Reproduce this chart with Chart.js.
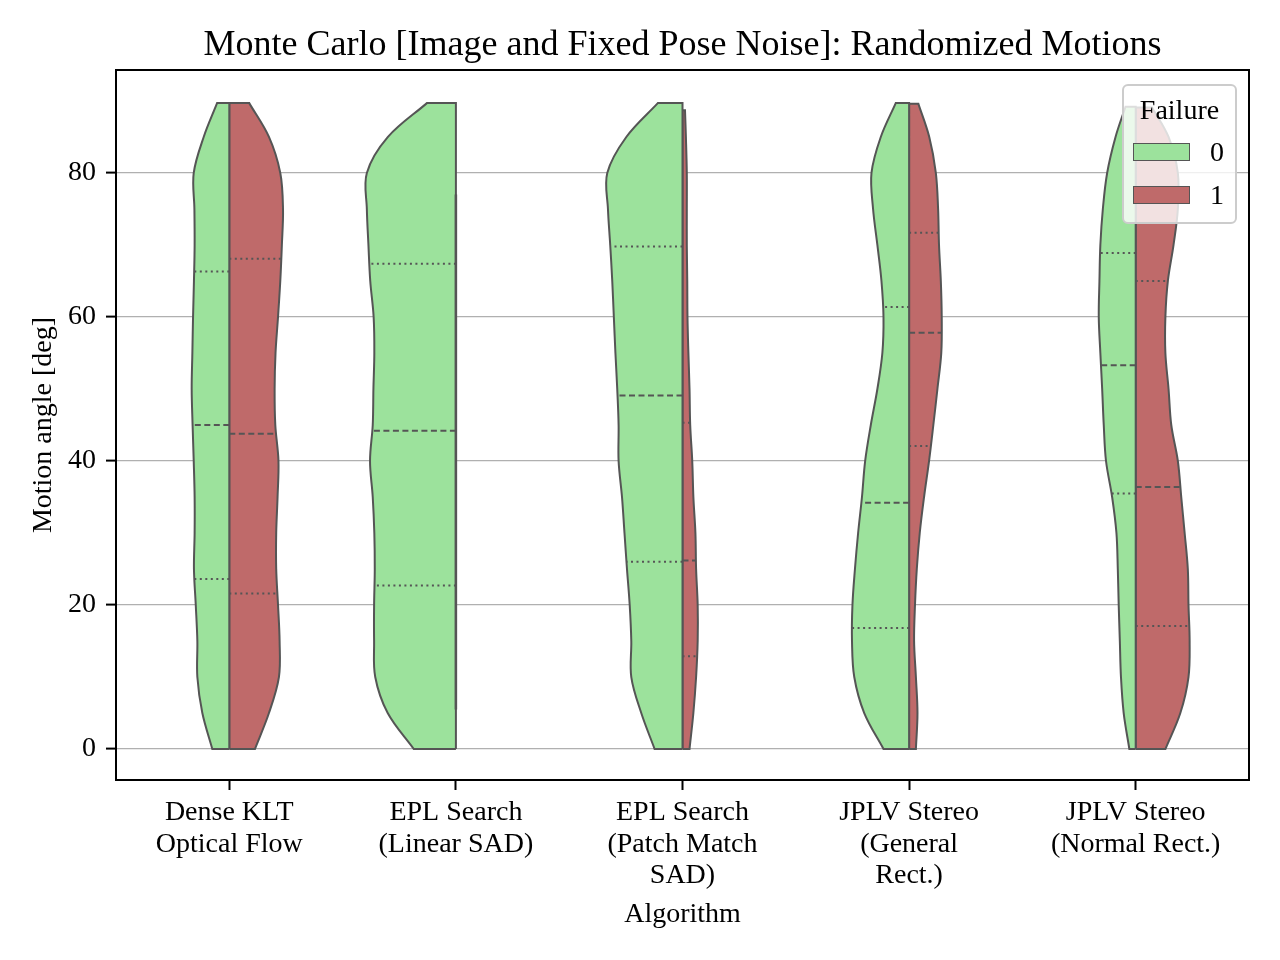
<!DOCTYPE html>
<html lang="en">
<head>
<meta charset="UTF-8">
<title>Monte Carlo: Randomized Motions</title>
<script src="https://cdn.jsdelivr.net/npm/chart.js"></script>
<style>
  body { margin: 0; background: #fff; font-family: "Liberation Serif", serif; }
  #wrap { position: relative; width: 1280px; height: 960px; }
  #legend { position: absolute; left: 1122px; top: 84px; width: 115px; height: 140px; box-sizing: border-box;
            background: rgba(255,255,255,0.8); border: 2px solid #cccccc; border-radius: 6px; }
  #legend div { position: absolute; font-size: 28px; line-height: 28px; color: #000; }
  #legend .patch { width: 57px; height: 18px; box-sizing: border-box; border: 1.5px solid #555; }
</style>
</head>
<body>
<div id="wrap">
  <canvas id="chart" width="1280" height="960"></canvas>
  <div id="legend"></div>
</div>

<script>
const chartTitle = 'Monte Carlo [Image and Fixed Pose Noise]: Randomized Motions';
const algorithms = [
  ['Dense KLT', 'Optical Flow'],
  ['EPL Search', '(Linear SAD)'],
  ['EPL Search', '(Patch Match', 'SAD)'],
  ['JPLV Stereo', '(General', 'Rect.)'],
  ['JPLV Stereo', '(Normal Rect.)']
];
const failureLevels = ['0', '1'];
const yTicks = [0, 20, 40, 60, 80];

// violin half-widths (x-axis units) read at these angles
const angleGrid = [0, 5, 10, 15, 20, 25, 30, 35, 40, 45, 50, 55, 60, 65, 70, 75, 80, 85];

const widthFail0 = [
  [0.075, 0.119, 0.141, 0.141, 0.148, 0.156, 0.153, 0.153, 0.157, 0.162, 0.166, 0.163, 0.160, 0.156, 0.153, 0.154, 0.157, 0.113],
  [0.186, 0.301, 0.356, 0.361, 0.361, 0.358, 0.360, 0.367, 0.379, 0.367, 0.364, 0.360, 0.363, 0.378, 0.386, 0.393, 0.393, 0.300],
  [0.123, 0.182, 0.226, 0.226, 0.233, 0.245, 0.256, 0.267, 0.282, 0.282, 0.288, 0.296, 0.303, 0.310, 0.319, 0.329, 0.332, 0.248],
  [0.113, 0.198, 0.242, 0.252, 0.250, 0.239, 0.225, 0.208, 0.194, 0.169, 0.140, 0.118, 0.113, 0.122, 0.140, 0.159, 0.166, 0.125],
  [0.028, 0.053, 0.065, 0.070, 0.075, 0.079, 0.085, 0.104, 0.131, 0.141, 0.148, 0.156, 0.163, 0.160, 0.156, 0.145, 0.126, 0.089]
];
const widthFail1 = [
  [0.113, 0.175, 0.219, 0.222, 0.215, 0.207, 0.207, 0.213, 0.217, 0.203, 0.200, 0.204, 0.215, 0.225, 0.232, 0.237, 0.225, 0.175],
  null,
  [0.031, 0.048, 0.060, 0.067, 0.067, 0.060, 0.057, 0.048, 0.043, 0.034, 0.031, 0.026, 0.022, 0.021, 0.019, 0.019, 0.019, 0.015],
  [0.030, 0.037, 0.030, 0.022, 0.026, 0.034, 0.047, 0.066, 0.088, 0.107, 0.125, 0.142, 0.144, 0.140, 0.132, 0.128, 0.118, 0.089],
  [0.131, 0.197, 0.233, 0.238, 0.233, 0.230, 0.216, 0.201, 0.186, 0.157, 0.145, 0.131, 0.131, 0.142, 0.167, 0.186, 0.186, 0.145]
];
const topAngleFail0 = [89.7, 89.7, 89.7, 89.7, 89.2];
const topWidthFail0 = [0.054, 0.128, 0.109, 0.059, 0.045];
const topAngleFail1 = [89.7, null, 88.7, 89.6, 89.1];
const topWidthFail1 = [0.088, null, 0.011, 0.041, 0.072];

// [Q1, median, Q3]
const quartFail0 = [[23.6, 45.0, 66.3], [22.7, 44.2, 67.4], [26.0, 49.1, 69.8], [16.8, 34.2, 61.4], [35.5, 53.3, 68.9]];
const quartFail1 = [[21.6, 43.8, 68.1], null, [12.9, 26.2, 45.3], [42.1, 57.8, 71.7], [17.1, 36.4, 65.0]];

// EPL linear failures collapse to a line
const eplLinearFailRange = [5.5, 77.0];

const colors = ['#9ce29c', '#bf6a6a'];
const edgeColor = '#555555';
const serif = 'Liberation Serif';

function halfShape(i, side, widths, topAngle, topWidth) {
  const edge = widths.map((w, k) => ({x: i + side * w, y: angleGrid[k]}));
  edge.push({x: i + side * topWidth, y: topAngle});
  const pts = [{x: i, y: angleGrid[0]}, {...edge[0]}];
  edge.forEach(p => pts.push({...p}));
  pts.push({...edge[edge.length - 1]});
  pts.push({x: i, y: topAngle}, {x: i, y: topAngle}, {x: i, y: angleGrid[0]});
  return pts;
}

function widthAt(a, widths, topAngle, topWidth) {
  const ys = angleGrid.concat([topAngle]);
  const ws = widths.concat([topWidth]);
  for (let k = 0; k < ys.length - 1; k++) {
    if (a >= ys[k] && a <= ys[k + 1]) {
      const f = (a - ys[k]) / (ys[k + 1] - ys[k]);
      return ws[k] + f * (ws[k + 1] - ws[k]);
    }
  }
  return 0;
}

const datasets = [];
const sets = [
  {widths: widthFail0, tops: topAngleFail0, topW: topWidthFail0, quart: quartFail0, side: -1, color: colors[0]},
  {widths: widthFail1, tops: topAngleFail1, topW: topWidthFail1, quart: quartFail1, side: 1, color: colors[1]}
];

sets.forEach(s => {
  algorithms.forEach((_, i) => {
    if (!s.widths[i]) return;
    datasets.push({
      data: halfShape(i, s.side, s.widths[i], s.tops[i], s.topW[i]),
      showLine: true, fill: 'shape', tension: 0.35,
      backgroundColor: s.color, borderColor: edgeColor, borderWidth: 2,
      pointRadius: 0, order: 2
    });
    s.quart[i].forEach((q, k) => {
      const w = widthAt(q, s.widths[i], s.tops[i], s.topW[i]);
      datasets.push({
        data: [{x: i, y: q}, {x: i + s.side * w, y: q}],
        showLine: true, fill: false, tension: 0,
        borderColor: edgeColor, borderWidth: 2,
        borderDash: k === 1 ? [6, 3.5] : [2, 3.5],
        pointRadius: 0, order: 1
      });
    });
  });
});

datasets.push({
  data: [{x: 1, y: eplLinearFailRange[0]}, {x: 1, y: eplLinearFailRange[1]}],
  showLine: true, fill: false, borderColor: edgeColor, borderWidth: 2.5,
  pointRadius: 0, order: 1
});

const frame = {
  id: 'frame',
  afterDraw(chart) {
    const {ctx, chartArea: a} = chart;
    ctx.save();
    ctx.strokeStyle = '#000';
    ctx.lineWidth = 2;
    ctx.strokeRect(a.left, a.top, a.right - a.left, a.bottom - a.top);
    ctx.restore();
  }
};

const tickFont = {family: serif, size: 28, lineHeight: 1.125};

new Chart(document.getElementById('chart').getContext('2d'), {
  type: 'scatter',
  data: {datasets},
  options: {
    responsive: false,
    animation: false,
    devicePixelRatio: 1,
    layout: {padding: {left: 0, right: 31, top: 0, bottom: 0}},
    plugins: {
      legend: {display: false},
      tooltip: {enabled: false}
    },
    scales: {
      x: {
        type: 'linear', min: -0.5, max: 4.5,
        afterBuildTicks: s => { s.ticks = algorithms.map((_, i) => ({value: i})); },
        afterFit: s => { s.height = 180; },
        ticks: {callback: v => algorithms[v], color: '#000', font: tickFont, padding: 7, maxRotation: 0, autoSkip: false},
        grid: {drawOnChartArea: false, tickLength: 10, tickColor: '#000', tickWidth: 2},
        border: {display: false},
        title: {display: true, text: 'Algorithm', color: '#000', font: {family: serif, size: 28}, padding: {top: 0, bottom: 29}}
      },
      // top axis only carries the title so it is centred over the plot
      xTop: {
        type: 'linear', position: 'top', min: -0.5, max: 4.5,
        afterFit: s => { s.height = 70; },
        ticks: {display: false},
        grid: {display: false},
        border: {display: false},
        title: {display: true, text: chartTitle, color: '#000', font: {family: serif, size: 36}, padding: {top: 24, bottom: 0}}
      },
      y: {
        min: -4.3, max: 94.3,
        afterBuildTicks: s => { s.ticks = yTicks.map(v => ({value: v})); },
        afterFit: s => { s.width = 116; },
        ticks: {color: '#000', font: tickFont, padding: 10},
        grid: {color: '#b0b0b0', lineWidth: 1.2, tickLength: 10, tickColor: '#000', tickWidth: 2},
        border: {display: false},
        title: {display: true, text: 'Motion angle [deg]', color: '#000', font: {family: serif, size: 28}, padding: {top: 27, bottom: 0}}
      }
    }
  },
  plugins: [frame]
});

// legend, inside the axes at upper right
const legend = document.getElementById('legend');
legend.innerHTML = '<div style="left:0;width:111px;text-align:center;top:10px">Failure</div>' +
  failureLevels.map((lv, k) =>
    '<div class="patch" style="left:9px;top:' + (57 + 43 * k) + 'px;background:' + colors[k] + '"></div>' +
    '<div style="left:86px;top:' + (52 + 43 * k) + 'px">' + lv + '</div>').join('');
</script>
</body>
</html>
